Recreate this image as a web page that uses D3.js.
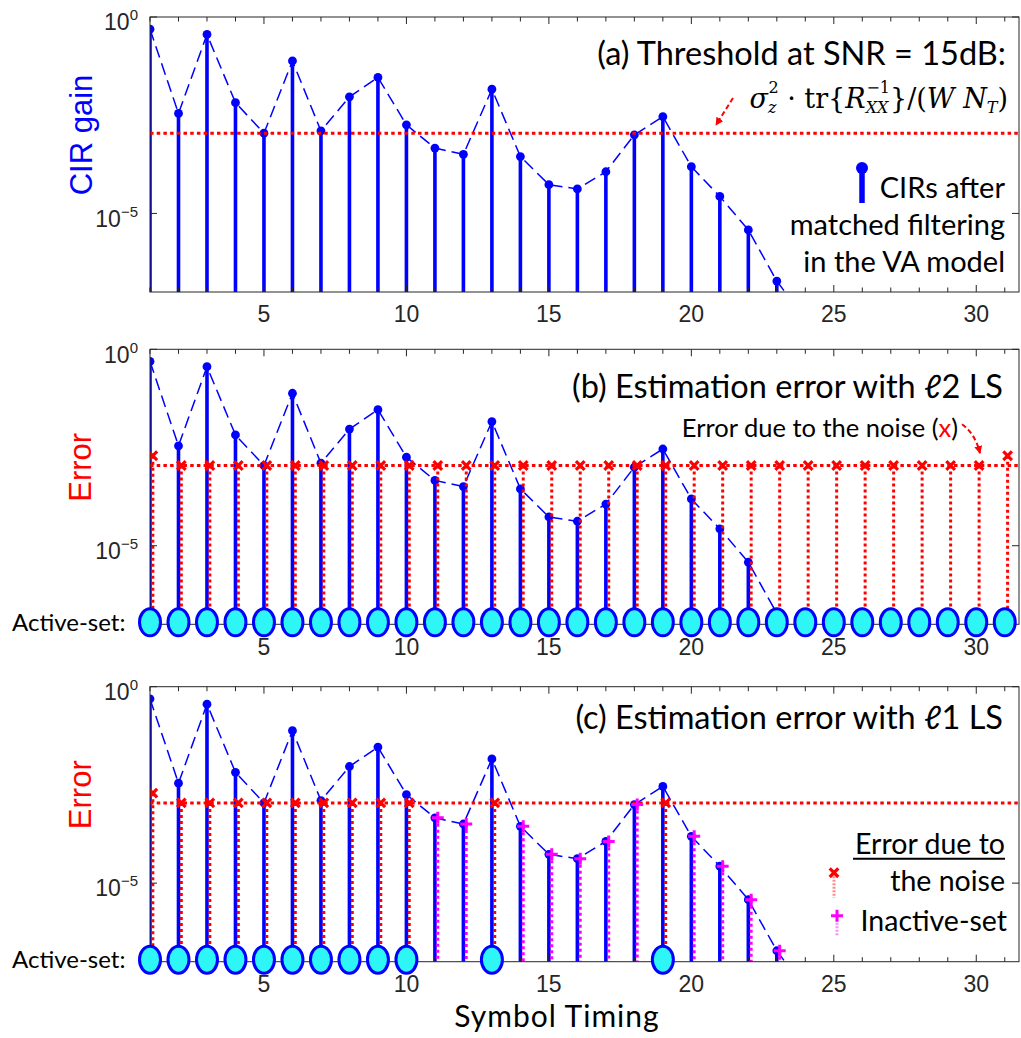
<!DOCTYPE html>
<html>
<head>
<meta charset="utf-8">
<script src="https://cdn.jsdelivr.net/npm/d3@7"></script>
<style>
body { margin: 0; background: #fff; }
svg text { font-family: "Liberation Sans", Arial, sans-serif; }
.note { font-family: Lato, "Open Sans", sans-serif; }
.math { font-family: "DejaVu Serif", "Liberation Serif", serif; }
</style>
</head>
<body>
<svg id="chart"></svg>
<script>
// Symbol timing (x) and CIR gain after matched filtering.
var timing = [1,2,3,4,5,6,7,8,9,10,11,12,13,14,15,16,17,18,19,20,21,22,23,24];
var cirGain = [0.49, 3.5e-3, 0.36, 6.6e-3, 1.1e-3, 0.076, 1.26e-3, 9.3e-3, 0.029, 1.8e-3,
    4.6e-4, 3.2e-4, 0.0145, 2.8e-4, 5.4e-5, 4.2e-5, 1.15e-4, 1.0e-3, 2.9e-3, 1.55e-4,
    2.7e-5, 3.8e-6, 1.9e-7, 2.0e-8];

// Threshold sigma_z^2 tr{Rxx^-1}/(W N_T) at SNR = 15 dB.
var threshold = 1.1e-3;

// (b) l2 LS: error due to the noise at every symbol timing.
var noiseTimingB = [1,2,3,4,5,6,7,8,9,10,11,12,13,14,15,16,17,18,19,20,21,22,23,24,25,26,27,28,29,30,31];
var noiseErrB = [1.95e-3, 1.1e-3, 1.1e-3, 1.1e-3, 1.1e-3, 1.1e-3, 1.1e-3, 1.1e-3, 1.1e-3, 1.1e-3,
    1.1e-3, 1.1e-3, 1.1e-3, 1.1e-3, 1.1e-3, 1.1e-3, 1.1e-3, 1.1e-3, 1.1e-3, 1.1e-3,
    1.1e-3, 1.1e-3, 1.1e-3, 1.1e-3, 1.1e-3, 1.1e-3, 1.1e-3, 1.1e-3, 1.1e-3, 1.1e-3, 1.95e-3];
var activeB = noiseTimingB;

// (c) l1 LS: active set and inactive set.
var activeC = [1,2,3,4,5,6,7,8,9,10,13,19];
var noiseErrC = [1.95e-3, 1.1e-3, 1.1e-3, 1.1e-3, 1.1e-3, 1.1e-3, 1.1e-3, 1.1e-3, 1.1e-3, 1.1e-3, 1.1e-3, 1.1e-3];
var inactiveC = [11,12,14,15,16,17,18,20,21,22,23];
var inactiveErrC = [4.6e-4, 3.2e-4, 2.8e-4, 5.4e-5, 4.2e-5, 1.15e-4, 1.0e-3, 1.55e-4, 2.7e-5, 3.8e-6, 1.9e-7];

var xMajor = [5, 10, 15, 20, 25, 30];
var yTicks = [1e-5, 1];

var width = 1021, height = 1038;
var plotH = 275;
var blue = "#0000ff", red = "#ff0000", magenta = "#ff00ff", cyan = "#2ef6f6", ink = "#262626";

var svg = d3.select("#chart").attr("width", width).attr("height", height);

var defs = svg.append("defs");
defs.append("marker")
    .attr("id", "arrow")
    .attr("viewBox", "0 0 10 10")
    .attr("refX", 9).attr("refY", 5)
    .attr("markerWidth", 4).attr("markerHeight", 4)
    .attr("markerUnits", "strokeWidth")
    .attr("orient", "auto")
    .append("path")
    .attr("d", "M0,0 L10,5 L0,10 Z")
    .attr("fill", red);

var x = d3.scaleLinear().domain([1, 31.5]).range([150, 1019]);
var y = d3.scaleLog().domain([1e-7, 1]).range([plotH, 0]);
var off = 0.1; // noise markers sit a little to the right of the CIR stems

function xMark(g, cx, cy, s) {
    g.append("path")
        .attr("d", "M" + (cx - s) + "," + (cy - s) + "L" + (cx + s) + "," + (cy + s) +
            "M" + (cx - s) + "," + (cy + s) + "L" + (cx + s) + "," + (cy - s))
        .attr("stroke", red).attr("stroke-width", 3.2).attr("fill", "none");
}
function plusMark(g, cx, cy, s, color) {
    g.append("path")
        .attr("d", "M" + (cx - s) + "," + cy + "L" + (cx + s) + "," + cy +
            "M" + cx + "," + (cy - s) + "L" + cx + "," + (cy + s))
        .attr("stroke", color).attr("stroke-width", 3).attr("fill", "none");
}

function drawPanel(top, id, opts) {
    var g = svg.append("g").attr("transform", "translate(0," + top + ")");

    g.append("clipPath").attr("id", "clip" + id)
        .append("rect").attr("x", 150).attr("y", 0).attr("width", 869).attr("height", plotH);

    var plot = g.append("g").attr("clip-path", "url(#clip" + id + ")");

    // CIR stems
    plot.selectAll(".stem").data(timing).enter().append("line")
        .attr("x1", function(d) { return x(d); })
        .attr("x2", function(d) { return x(d); })
        .attr("y1", function(d, i) { return y(cirGain[i]); })
        .attr("y2", plotH)
        .attr("stroke", blue).attr("stroke-width", 3.6);

    // dashed envelope
    var line = d3.line()
        .x(function(d) { return x(d); })
        .y(function(d, i) { return y(cirGain[i]); });
    plot.append("path").datum(timing)
        .attr("d", line)
        .attr("fill", "none").attr("stroke", blue).attr("stroke-width", 1.5)
        .attr("stroke-dasharray", "12,6");

    plot.selectAll(".dot").data(timing).enter().append("circle")
        .attr("cx", function(d) { return x(d); })
        .attr("cy", function(d, i) { return y(cirGain[i]); })
        .attr("r", 4.4).attr("fill", blue);

    // threshold
    plot.append("line")
        .attr("x1", 150).attr("x2", 1019)
        .attr("y1", y(threshold)).attr("y2", y(threshold))
        .attr("stroke", red).attr("stroke-width", 3).attr("stroke-dasharray", "3.5,3.2");

    if (opts.noiseT) {
        opts.noiseT.forEach(function(t, i) {
            var cx = x(t + off), cy = y(opts.noiseV[i]);
            plot.append("line").attr("x1", cx).attr("x2", cx).attr("y1", cy).attr("y2", plotH)
                .attr("stroke", red).attr("stroke-width", 3).attr("stroke-dasharray", "3,3");
        });
    }
    if (opts.inT) {
        opts.inT.forEach(function(t, i) {
            var cx = x(t + off), cy = y(opts.inV[i]);
            plot.append("line").attr("x1", cx).attr("x2", cx).attr("y1", cy).attr("y2", plotH)
                .attr("stroke", magenta).attr("stroke-width", 3).attr("stroke-dasharray", "3,3");
        });
    }
    if (opts.noiseT) {
        opts.noiseT.forEach(function(t, i) { xMark(plot, x(t + off), y(opts.noiseV[i]), 4.3); });
    }
    if (opts.inT) {
        opts.inT.forEach(function(t, i) { plusMark(plot, x(t + off), y(opts.inV[i]), 6, magenta); });
    }

    // box
    g.append("rect").attr("x", 150).attr("y", 0).attr("width", 869).attr("height", plotH)
        .attr("fill", "none").attr("stroke", ink).attr("stroke-width", 1);

    // x ticks (inward), every integer minor, multiples of 5 major
    var minor = d3.range(1, 32);
    [0, plotH].forEach(function(yy) {
        var dir = yy === 0 ? 1 : -1;
        g.selectAll(null).data(minor).enter().append("line")
            .attr("x1", function(d) { return x(d); }).attr("x2", function(d) { return x(d); })
            .attr("y1", yy).attr("y2", function(d) { return yy + dir * (d % 5 === 0 ? 7 : 4.5); })
            .attr("stroke", ink).attr("stroke-width", 1);
    });
    g.selectAll(".xl").data(xMajor).enter().append("text")
        .attr("x", function(d) { return x(d); })
        .attr("y", plotH + 22)
        .attr("dy", "0.36em")
        .attr("text-anchor", "middle")
        .attr("font-size", 23).attr("fill", ink)
        .text(function(d) { return d; });

    // y ticks
    [150, 1019].forEach(function(xx) {
        var dir = xx === 150 ? 1 : -1;
        g.selectAll(null).data(yTicks).enter().append("line")
            .attr("x1", xx).attr("x2", xx + dir * 7)
            .attr("y1", function(d) { return y(d); }).attr("y2", function(d) { return y(d); })
            .attr("stroke", ink).attr("stroke-width", 1);
    });
    g.selectAll(".yl").data(yTicks).enter().append("text")
        .attr("x", 138)
        .attr("y", function(d) { return y(d) + 5; })
        .attr("dy", "0.36em")
        .attr("text-anchor", "end")
        .attr("font-size", 23).attr("fill", ink)
        .each(function(d) {
            var t = d3.select(this);
            t.append("tspan").text("10");
            t.append("tspan").attr("dy", -10).attr("font-size", 15)
                .text(d === 1 ? "0" : "\u22125");
        });

    // y label
    g.append("text")
        .attr("transform", "translate(" + opts.labX + "," + opts.labY + ") rotate(-90)")
        .attr("text-anchor", "middle")
        .attr("font-size", opts.labSize)
        .attr("fill", opts.labColor)
        .text(opts.label);

    // active set
    if (opts.active) {
        g.append("text").attr("class", "note")
            .attr("x", 12).attr("y", plotH - 2).attr("dy", "0.35em")
            .attr("font-size", 24).attr("fill", "#000")
            .text("Active-set:");
        g.selectAll(".act").data(opts.active).enter().append("ellipse")
            .attr("cx", function(d) { return x(d); })
            .attr("cy", plotH - 2)
            .attr("rx", 10.5).attr("ry", 13.5)
            .attr("fill", cyan).attr("stroke", blue).attr("stroke-width", 3);
    }
    return g;
}

var ga = drawPanel(17, "a", { label: "CIR gain", labColor: blue, labX: 92, labY: 118, labSize: 31 });
var gb = drawPanel(349.3, "b", { label: "Error", labColor: red, labX: 91, labY: 118, labSize: 31,
    noiseT: noiseTimingB, noiseV: noiseErrB, active: activeB });
var gc = drawPanel(686.7, "c", { label: "Error", labColor: red, labX: 91, labY: 108, labSize: 31,
    noiseT: activeC, noiseV: noiseErrC, inT: inactiveC, inV: inactiveErrC, active: activeC });

// (a) annotations
ga.append("text").attr("class", "note").attr("x", 1006).attr("y", 48)
    .attr("text-anchor", "end").attr("font-size", 32.5).attr("fill", "#000")
    .text("(a) Threshold at SNR = 15dB:");
var f = ga.append("text").attr("class", "math").attr("x", 1008).attr("y", 91)
    .attr("text-anchor", "end").attr("font-size", 27).attr("fill", "#000");
f.append("tspan").attr("font-style", "italic").text("\u03c3");
f.append("tspan").attr("font-style", "italic").attr("font-size", 16).attr("dy", 5).text("z");
f.append("tspan").attr("font-size", 16).attr("dx", -8).attr("dy", -20).text("2");
f.append("tspan").attr("dy", 15).text(" \u00b7 tr{");
f.append("tspan").attr("font-style", "italic").text("R");
f.append("tspan").attr("font-style", "italic").attr("font-size", 16).attr("dy", 5).text("XX");
f.append("tspan").attr("font-size", 16).attr("dx", -22).attr("dy", -20).text("\u22121");
f.append("tspan").attr("dy", 15).text("}/(");
f.append("tspan").attr("font-style", "italic").text("W N");
f.append("tspan").attr("font-style", "italic").attr("font-size", 16).attr("dy", 5).text("T");
f.append("tspan").attr("dy", -5).text(")");

ga.append("path").attr("d", "M733,81 L716,108")
    .attr("stroke", red).attr("stroke-width", 2).attr("stroke-dasharray", "5,3")
    .attr("fill", "none").attr("marker-end", "url(#arrow)");

// legend for CIR stems
ga.append("line").attr("x1", 862).attr("x2", 862).attr("y1", 151).attr("y2", 186)
    .attr("stroke", blue).attr("stroke-width", 5.5);
ga.append("circle").attr("cx", 862).attr("cy", 151).attr("r", 6).attr("fill", blue);
["CIRs after", "matched filtering", "in the VA model"].forEach(function(s, i) {
    ga.append("text").attr("class", "note").attr("x", 1005).attr("y", 181 + i * 37)
        .attr("text-anchor", "end").attr("font-size", 29).attr("fill", "#000").text(s);
});

// (b) annotations
gb.append("text").attr("class", "note").attr("x", 1003).attr("y", 49)
    .attr("text-anchor", "end").attr("font-size", 32.5).attr("fill", "#000")
    .text("(b) Estimation error with \u21132 LS");
var eb = gb.append("text").attr("class", "note").attr("x", 958).attr("y", 88)
    .attr("text-anchor", "end").attr("font-size", 25.5).attr("fill", "#000");
eb.append("tspan").text("Error due to the noise (");
eb.append("tspan").attr("fill", red).text("x");
eb.append("tspan").text(")");
gb.append("path").attr("d", "M962,75 Q975,84 980,104")
    .attr("stroke", red).attr("stroke-width", 2).attr("stroke-dasharray", "5,3")
    .attr("fill", "none").attr("marker-end", "url(#arrow)");

// (c) annotations
gc.append("text").attr("class", "note").attr("x", 1003).attr("y", 42)
    .attr("text-anchor", "end").attr("font-size", 32.5).attr("fill", "#000")
    .text("(c) Estimation error with \u21131 LS");
gc.append("text").attr("class", "note").attr("x", 1005).attr("y", 167)
    .attr("text-anchor", "end").attr("font-size", 28.5).attr("fill", "#000").text("Error due to");
gc.append("line").attr("x1", 853).attr("x2", 1005).attr("y1", 172).attr("y2", 172)
    .attr("stroke", "#000").attr("stroke-width", 2);
gc.append("text").attr("class", "note").attr("x", 1005).attr("y", 204)
    .attr("text-anchor", "end").attr("font-size", 28.5).attr("fill", "#000").text("the noise");
gc.append("text").attr("class", "note").attr("x", 1007).attr("y", 244)
    .attr("text-anchor", "end").attr("font-size", 28.5).attr("fill", "#000").text("Inactive-set");
gc.append("line").attr("x1", 834).attr("x2", 834).attr("y1", 186).attr("y2", 211)
    .attr("stroke", red).attr("stroke-opacity", 0.45).attr("stroke-width", 3).attr("stroke-dasharray", "2,1.5");
xMark(gc, 834, 186, 4.3);
gc.append("line").attr("x1", 837).attr("x2", 837).attr("y1", 229).attr("y2", 249)
    .attr("stroke", magenta).attr("stroke-opacity", 0.45).attr("stroke-width", 3).attr("stroke-dasharray", "2,1.5");
plusMark(gc, 837, 229, 6, magenta);

// x label
svg.append("text").attr("class", "note").attr("x", 557).attr("y", 1027)
    .attr("text-anchor", "middle").attr("font-size", 30).attr("letter-spacing", 1).attr("fill", "#000")
    .text("Symbol Timing");
</script>
</body>
</html>
